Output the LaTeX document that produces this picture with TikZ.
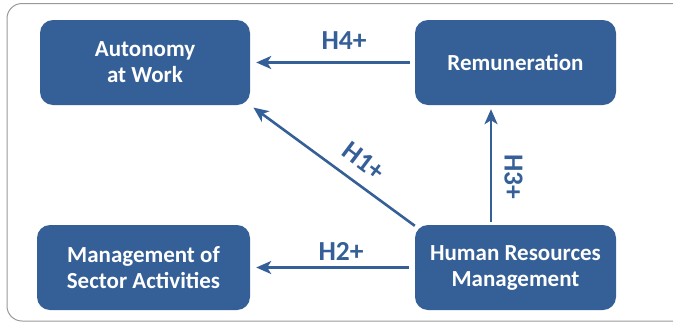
\documentclass[tikz,border=0pt]{standalone}
\usepackage{fontspec}
\setmainfont{Carlito}
\usetikzlibrary{arrows.meta}
\definecolor{boxblue}{HTML}{355F97}
\begin{document}
\begin{tikzpicture}[x=1pt,y=-1pt,
  box/.style={draw=none, fill=boxblue, rounded corners=13pt, text=white,
    font=\fontsize{23}{26}\selectfont\bfseries, align=center, inner sep=0pt,
    minimum height=85pt},
  conn/.style={draw=boxblue, line width=2.6pt, -{Stealth[length=15pt,width=13pt,inset=4pt]}},
  lbl/.style={text=boxblue, font=\fontsize{27.5}{30}\selectfont\bfseries, inner sep=0pt}]
\useasboundingbox (0,0) rectangle (673,325);
\clip (0,0) rectangle (673,325);
\draw[black!40, line width=1pt, rounded corners=15pt] (7,3.5) rectangle (688,321);
\node[box, minimum width=210pt] (aut) at (145,62.5) {Autonomy\\at Work};
\node[box, minimum width=201pt] (rem) at (515.5,62.5) {Remuneration};
\node[box, minimum width=213pt] (mgmt) at (143.5,267.5) {Management of\\Sector Activities};
\node[box, minimum width=201pt] (hrm) at (515.5,267.5) {Human Resources\\Management};
\draw[conn, shorten <=5pt, shorten >=6pt] (rem) -- (aut);
\draw[conn, shorten <=6pt, shorten >=6pt] (hrm) -- (mgmt);
\draw[conn, shorten >=4pt] ([yshift=-1pt]hrm.north west) -- (aut.south east);
\draw[conn, shorten <=3pt, shorten >=4pt] ([xshift=-24.5pt]hrm.north) -- ([xshift=-24.5pt]rem.south);
\node[lbl] (h4) at (344,41) {H4+};
\node[lbl] (h2) at (341,251) {H2+};
\node[lbl, rotate=-37] (h1) at (364,161) {H1+};
\node[lbl, rotate=-90] (h3) at (513.5,177) {H3+};
\end{tikzpicture}
\end{document}
